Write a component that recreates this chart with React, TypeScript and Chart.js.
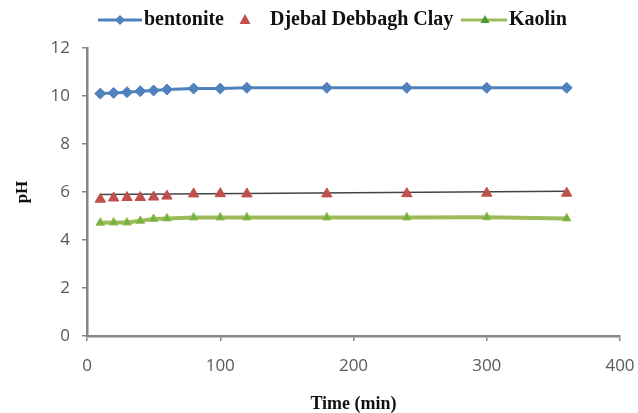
import React, { useEffect, useRef } from "react";
import { Chart, registerables } from "chart.js";

Chart.register(...registerables);

const times = [10, 20, 30, 40, 50, 60, 80, 100, 120, 180, 240, 300, 360];
const bentonite = [10.1, 10.13, 10.16, 10.2, 10.23, 10.27, 10.31, 10.31, 10.34, 10.34, 10.34, 10.34, 10.34];
const djebal = [5.7, 5.75, 5.77, 5.77, 5.79, 5.83, 5.92, 5.93, 5.92, 5.92, 5.93, 5.95, 5.95];
const kaolin = [4.72, 4.73, 4.73, 4.8, 4.88, 4.9, 4.94, 4.94, 4.94, 4.94, 4.94, 4.95, 4.9];
const trendX = [10, 360];
const trendY = [5.9, 6.03];
const seriesNames = ["bentonite", "Djebal Debbagh Clay", "Kaolin"];
const xTitle = "Time (min)";
const yTitle = "pH";

const BLUE = "#4F81BD";
const RED = "#C0504D";
const GREEN = "#9BBB59";
const AXIS = "#868686";

const legendPlugin = {
  id: "customLegend",
  afterDraw(chart: any) {
    const ctx = chart.ctx;
    const y = 20;
    ctx.save();
    ctx.font = "bold 20px 'Liberation Serif'";
    ctx.fillStyle = "#111";
    ctx.textBaseline = "middle";
    ctx.textAlign = "left";
    // bentonite
    ctx.strokeStyle = BLUE;
    ctx.lineWidth = 3;
    ctx.beginPath();
    ctx.moveTo(98, y);
    ctx.lineTo(142, y);
    ctx.stroke();
    ctx.fillStyle = BLUE;
    ctx.beginPath();
    ctx.moveTo(120, y - 5);
    ctx.lineTo(125, y);
    ctx.lineTo(120, y + 5);
    ctx.lineTo(115, y);
    ctx.closePath();
    ctx.fill();
    ctx.fillStyle = "#111";
    ctx.fillText(seriesNames[0], 144, y);
    // djebal
    ctx.fillStyle = RED;
    ctx.beginPath();
    ctx.moveTo(245, y - 6);
    ctx.lineTo(250.5, y + 4);
    ctx.lineTo(239.5, y + 4);
    ctx.closePath();
    ctx.fill();
    ctx.fillStyle = "#111";
    ctx.fillText(seriesNames[1], 270, y);
    // kaolin
    ctx.strokeStyle = GREEN;
    ctx.lineWidth = 3;
    ctx.beginPath();
    ctx.moveTo(461, y);
    ctx.lineTo(507, y);
    ctx.stroke();
    ctx.fillStyle = "#4E9A2E";
    ctx.beginPath();
    ctx.moveTo(485, y - 5);
    ctx.lineTo(489.5, y + 3);
    ctx.lineTo(480.5, y + 3);
    ctx.closePath();
    ctx.fill();
    ctx.fillStyle = "#111";
    ctx.fillText(seriesNames[2], 509, y);
    ctx.restore();
  },
};

export default function App() {
  const ref = useRef<HTMLCanvasElement>(null);
  useEffect(() => {
    if (!ref.current) return;
    const toXY = (xs: number[], ys: number[]) => xs.map((x, i) => ({ x, y: ys[i] }));
    const chart = new Chart(ref.current, {
      type: "scatter",
      data: {
        datasets: [
          {
            label: seriesNames[0],
            data: toXY(times, bentonite),
            showLine: true,
            borderColor: BLUE,
            backgroundColor: BLUE,
            borderWidth: 3,
            pointStyle: "rectRot",
            pointRadius: 5.5,
            pointBackgroundColor: BLUE,
            pointBorderColor: BLUE,
            pointBorderWidth: 1,
          },
          {
            label: seriesNames[1],
            data: toXY(times, djebal),
            showLine: false,
            pointStyle: "triangle",
            pointRadius: 6,
            pointBackgroundColor: RED,
            pointBorderColor: RED,
            pointBorderWidth: 1,
          },
          {
            label: "trend",
            data: toXY(trendX, trendY),
            showLine: true,
            borderColor: "#444",
            borderWidth: 1.5,
            pointRadius: 0,
          },
          {
            label: seriesNames[2],
            data: toXY(times, kaolin),
            showLine: true,
            borderColor: GREEN,
            borderWidth: 4,
            pointStyle: "triangle",
            pointRadius: 5,
            pointBackgroundColor: "#6DB33F",
            pointBorderColor: GREEN,
            pointBorderWidth: 1,
          },
        ],
      },
      options: {
        animation: false,
        responsive: true,
        maintainAspectRatio: false,
        layout: { padding: { left: 0, right: 18, top: 48, bottom: 0 } },
        plugins: {
          legend: { display: false },
          tooltip: { enabled: false },
        },
        scales: {
          x: {
            type: "linear",
            min: 0,
            max: 400,
            afterFit: (s: any) => {
              s.height = 77;
              s.paddingLeft = 0;
              s.paddingRight = 0;
            },
            ticks: {
              stepSize: 100,
              padding: 15,
              color: "#595959",
              font: { family: "'Open Sans'", size: 17 },
              maxRotation: 0,
            },
            grid: {
              drawOnChartArea: false,
              drawTicks: true,
              tickLength: 5,
              color: AXIS,
              lineWidth: 1.5,
            },
            border: { display: true, color: AXIS, width: 2.5 },
            title: {
              display: true,
              text: xTitle,
              color: "#111",
              font: { family: "'Liberation Serif'", size: 18, weight: "bold", lineHeight: 1 },
              padding: { top: 0, bottom: 0 },
            },
          },
          y: {
            min: 0,
            max: 12,
            afterFit: (s: any) => {
              s.width = 87;
              s.paddingTop = 0;
              s.paddingBottom = 0;
            },
            ticks: {
              stepSize: 2,
              padding: 12,
              color: "#595959",
              font: { family: "'Open Sans'", size: 17 },
            },
            grid: {
              drawOnChartArea: false,
              drawTicks: true,
              tickLength: 5,
              color: AXIS,
              lineWidth: 1.5,
            },
            border: { display: true, color: AXIS, width: 2.5 },
            title: {
              display: true,
              text: yTitle,
              color: "#111",
              font: { family: "'Liberation Serif'", size: 17, weight: "bold", lineHeight: 1 },
              padding: { top: 14, bottom: 0 },
            },
          },
        },
      },
      plugins: [legendPlugin],
    });
    return () => chart.destroy();
  }, []);
  return (
    <div style={{ position: "fixed", left: 0, top: 0, width: 638, height: 413, background: "#fff" }}>
      <canvas ref={ref} />
    </div>
  );
}
